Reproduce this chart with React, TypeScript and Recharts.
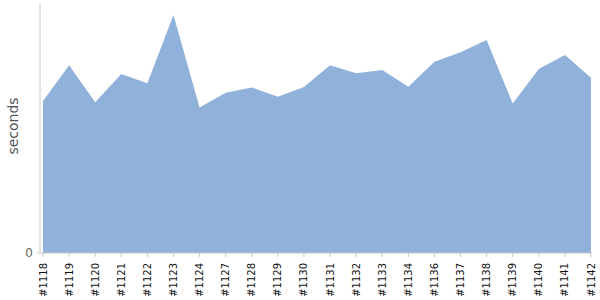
import { Area, AreaChart, XAxis, YAxis } from "recharts";

const builds = [
  "#1118", "#1119", "#1120", "#1121", "#1122", "#1123", "#1124", "#1127",
  "#1128", "#1129", "#1130", "#1131", "#1132", "#1133", "#1134", "#1136",
  "#1137", "#1138", "#1139", "#1140", "#1141", "#1142",
];
const seconds = [
  61, 75.4, 60.5, 71.9, 68.2, 95.6, 58.4, 64.4, 66.5, 62.8, 66.7,
  75.4, 72.2, 73.5, 66.8, 76.8, 80.6, 85.5, 60, 73.9, 79.5, 70.4,
];
const yTicks = [0];

const data = builds.map((b, i) => ({ build: b, seconds: seconds[i] }));

const AXIS = "#c8c8c8";
const FILL = "#8fb1da";
const FONT = "DejaVu Sans, sans-serif";

function BuildTick({ x, y, payload }: any) {
  return (
    <g transform={`translate(${x},${y})`}>
      <text
        transform="rotate(-90)"
        textAnchor="end"
        dy="0.35em"
        fontSize={10}
        fill="#111"
        fontFamily={FONT}
      >
        {payload.value}
      </text>
    </g>
  );
}

export default function App() {
  return (
    <div style={{ position: "absolute", left: 0, top: 0, background: "#fff" }}>
      <AreaChart
        width={600}
        height={300}
        data={data}
        margin={{ top: 4, right: 8, bottom: 2, left: 0 }}
      >
        <XAxis
          dataKey="build"
          interval={0}
          height={45}
          padding={{ left: 3, right: 1 }}
          stroke={AXIS}
          tickSize={4}
          tickMargin={6}
          tick={<BuildTick />}
        />
        <YAxis
          width={40}
          domain={[0, 100]}
          ticks={yTicks}
          stroke={AXIS}
          tickSize={3}
          tickMargin={4}
          tick={{ fontSize: 12, fill: "#666", fontFamily: FONT }}
          label={{
            content: () => (
              <text
                x={13}
                y={126}
                transform="rotate(-90 13 126)"
                textAnchor="middle"
                dominantBaseline="central"
                fontSize={14}
                fill="#555"
                fontFamily={FONT}
              >
                seconds
              </text>
            ),
          }}
        />
        <Area
          type="linear"
          dataKey="seconds"
          stroke="none"
          fill={FILL}
          fillOpacity={1}
          isAnimationActive={false}
        />
      </AreaChart>
    </div>
  );
}
